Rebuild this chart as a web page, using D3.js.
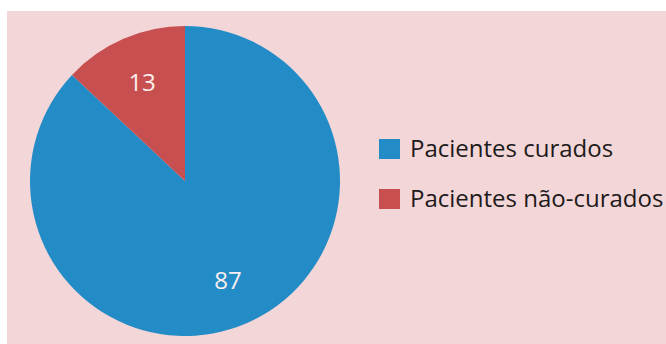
<!doctype html>
<html lang="pt">
<head>
    <meta charset="UTF-8">
    <title>Pacientes</title>
    <style>
        body { margin: 0; background: #fff; }
        svg { display: block; }
        .lbl { font-family: "Open Sans", sans-serif; font-size: 24px; fill: #fbeeee; }
        .leg { font-family: "Open Sans", sans-serif; font-size: 24px; fill: #1d1a1a; }
    </style>
</head>
<body>
    <svg width="666" height="344"></svg>
    <script src="https://cdn.jsdelivr.net/npm/d3@7"></script>
    <script>
        const categories = ["Pacientes curados", "Pacientes não-curados"];
        const values = [87, 13];
        const colors = ["#238cc7", "#c84f50"];

        const svg = d3.select("svg");

        // pink panel
        svg.append("rect")
            .attr("x", 7).attr("y", 11)
            .attr("width", 659).attr("height", 333)
            .attr("fill", "#f3d6d8");

        const cx = 185, cy = 181, r = 155;
        const g = svg.append("g").attr("transform", "translate(" + cx + "," + cy + ")");

        const data = categories.map((c, i) => ({name: c, value: values[i], color: colors[i]}));

        const pie = d3.pie().value(d => d.value).sort(null);
        const arc = d3.arc().innerRadius(0).outerRadius(r);
        const labelArc = d3.arc().innerRadius(108).outerRadius(108);

        const arcs = pie(data);

        g.selectAll("path")
            .data(arcs)
            .join("path")
            .attr("d", arc)
            .attr("fill", d => d.data.color);

        g.selectAll("text")
            .data(arcs)
            .join("text")
            .attr("class", "lbl")
            .attr("transform", d => "translate(" + labelArc.centroid(d) + ")")
            .attr("text-anchor", "middle")
            .attr("dy", "0.36em")
            .text(d => d.data.value);

        // legend
        const leg = svg.append("g").attr("transform", "translate(379,139)");
        const item = leg.selectAll("g")
            .data(data)
            .join("g")
            .attr("transform", (d, i) => "translate(0," + (i * 50) + ")");
        item.append("rect")
            .attr("width", 21).attr("height", 20)
            .attr("fill", d => d.color);
        item.append("text")
            .attr("class", "leg")
            .attr("x", 31).attr("y", 18)
            .text(d => d.name);
    </script>
</body>
</html>
